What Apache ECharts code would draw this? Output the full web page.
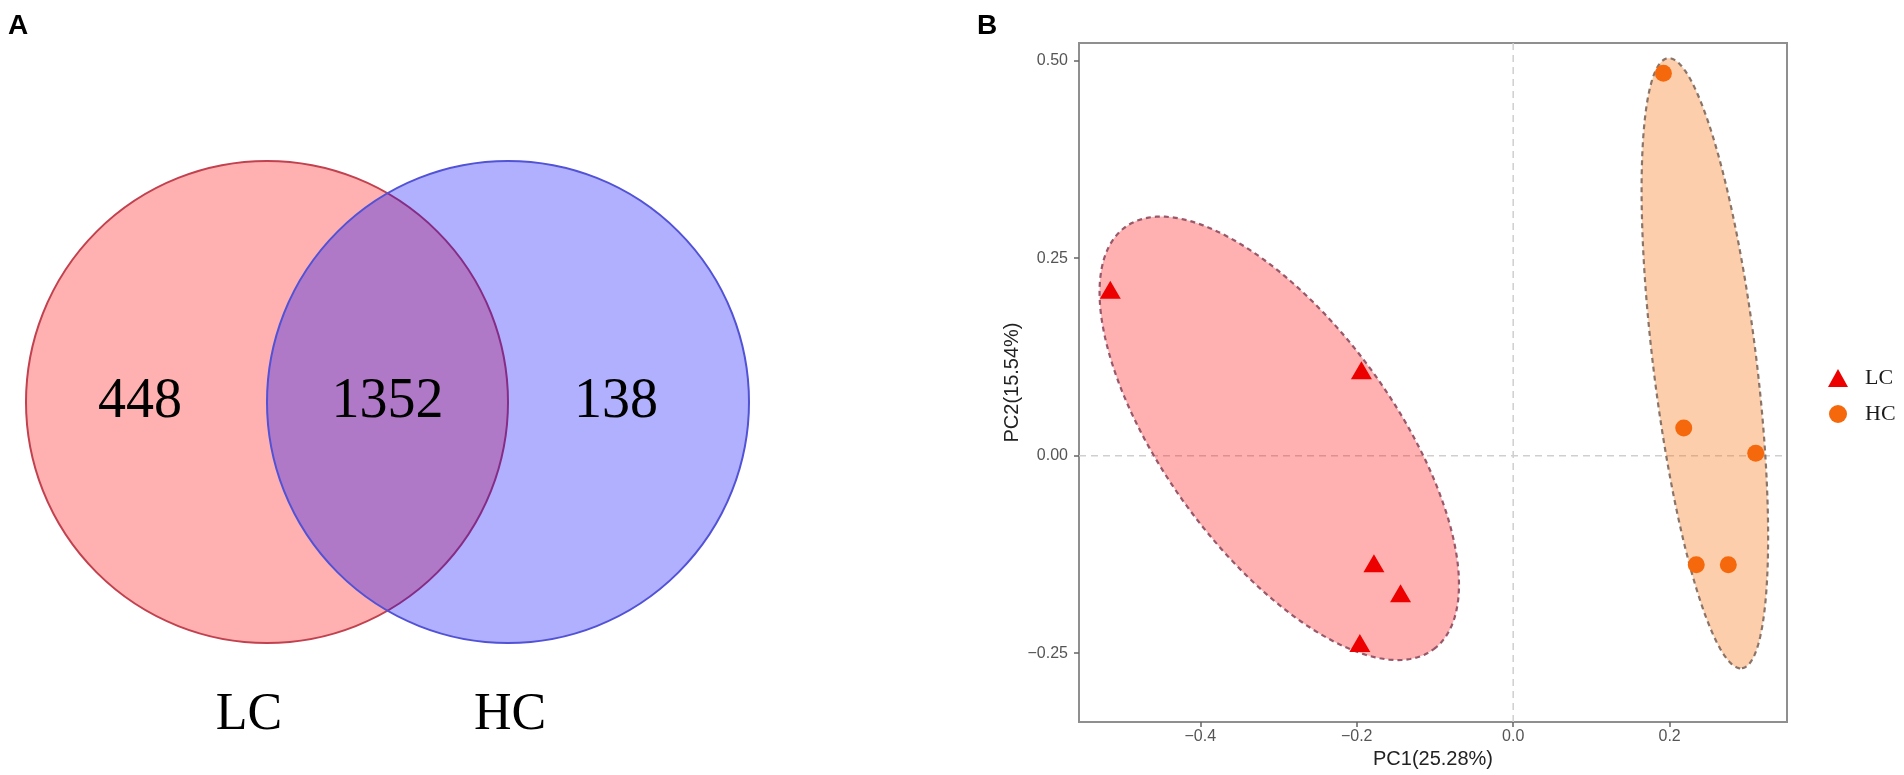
<!DOCTYPE html>
<html>
<head>
<meta charset="utf-8">
<script src="https://cdn.jsdelivr.net/npm/echarts@6/dist/echarts.min.js"></script>
<style>
html,body{margin:0;padding:0;background:#fff;}
#c{width:1904px;height:775px;}
</style>
</head>
<body>
<div id="c"></div>
<script>
// ---------- data ----------
const PANEL_TAGS = ['A', 'B'];
const VENN_SETS = ['LC', 'HC'];
const VENN_COUNTS = [448, 1352, 138];          // LC only, shared, HC only
const PCA_GROUPS = ['LC', 'HC'];
const LC_PC1 = [-0.515, -0.194, -0.178, -0.144, -0.196];
const LC_PC2 = [0.210, 0.108, -0.136, -0.174, -0.237];
const HC_PC1 = [0.192, 0.218, 0.310, 0.234, 0.275];
const HC_PC2 = [0.484, 0.035, 0.003, -0.138, -0.138];
// ellipse: centre PC1, centre PC2, semi-axis 1, semi-axis 2, angle (deg)
const LC_ELLIPSE = [-0.299, 0.022, 0.332, 0.146, -53.5];
const HC_ELLIPSE = [0.245, 0.117, 0.389, 0.066, -83.0];
const REF_LINES = [0, 0];
const X_TICKS = [-0.4, -0.2, 0, 0.2];
const Y_TICKS = [-0.25, 0, 0.25, 0.5];
const AXIS_NAMES = ['PC1(25.28%)', 'PC2(15.54%)'];

// ---------- layout (Venn schematic, in px of a hidden grid) ----------
const VENN_CIRCLE_LAYOUT = [[267, 402, 241], [508, 402, 241]];
const VENN_COUNT_LAYOUT = [[140, 402], [387.5, 402], [616, 402]];
const VENN_SET_LAYOUT = [[249, 715], [510, 715]];

const SANS = 'Liberation Sans';
const SERIF = 'Liberation Serif';

function ellipseRender(style) {
  return function (params, api) {
    const cx = api.value(0), cy = api.value(1), a = api.value(2), b = api.value(3);
    const phi = api.value(4) * Math.PI / 180;
    const pts = [];
    const n = 200;
    for (let i = 0; i < n; i++) {
      const t = i / n * 2 * Math.PI;
      const dx = a * Math.cos(t), dy = b * Math.sin(t);
      pts.push(api.coord([cx + dx * Math.cos(phi) - dy * Math.sin(phi),
                          cy + dx * Math.sin(phi) + dy * Math.cos(phi)]));
    }
    return { type: 'polygon', shape: { points: pts }, style: style };
  };
}

const vennStyles = [
  { fill: 'rgba(255,0,0,0.31)', stroke: '#c2414f', lineWidth: 2 },
  { fill: 'rgba(0,0,255,0.31)', stroke: '#5252d6', lineWidth: 2 }
];

const axisLineStyle = { color: '#8f8f8f', width: 2 };

const chart = echarts.init(document.getElementById('c'), null, { renderer: 'canvas' });
chart.setOption({
  animation: false,
  backgroundColor: '#fff',
  title: [
    { text: PANEL_TAGS[0], left: 8, top: 12, padding: 0,
      textStyle: { fontFamily: SANS, fontWeight: 'bold', fontSize: 28, color: '#000' } },
    { text: PANEL_TAGS[1], left: 977, top: 12, padding: 0,
      textStyle: { fontFamily: SANS, fontWeight: 'bold', fontSize: 28, color: '#000' } }
  ],
  legend: {
    orient: 'vertical', left: 1823, top: 362, itemWidth: 20, itemHeight: 18, itemGap: 14,
    selectedMode: false,
    textStyle: { fontFamily: SERIF, fontSize: 22, color: '#1a1a1a', padding: [0, 0, 0, 12] },
    data: [{ name: PCA_GROUPS[0], icon: 'triangle' }, { name: PCA_GROUPS[1], icon: 'circle' }]
  },
  grid: [
    { left: 1079, top: 43, width: 708, height: 679, show: true, borderColor: '#8f8f8f', borderWidth: 2, backgroundColor: 'transparent' },
    { left: 0, top: 0, width: 800, height: 775, show: false }
  ],
  xAxis: [
    {
      type: 'value', gridIndex: 0, min: -0.555, max: 0.35,
      name: AXIS_NAMES[0], nameLocation: 'middle', nameGap: 26,
      nameTextStyle: { fontFamily: SANS, fontSize: 20, color: '#222' },
      axisLine: { show: true, onZero: false, lineStyle: axisLineStyle },
      splitLine: { show: false },
      axisTick: { show: true, inside: false, customValues: X_TICKS, length: 5, lineStyle: { color: '#666', width: 1.5 } },
      axisLabel: { customValues: X_TICKS, margin: 7, fontFamily: SANS, fontSize: 16, color: '#555',
        formatter: v => (v < 0 ? '\u2212' : '') + Math.abs(v).toFixed(1) }
    },
    { type: 'value', gridIndex: 1, min: 0, max: 800, show: false }
  ],
  yAxis: [
    {
      type: 'value', gridIndex: 0, min: -0.3371, max: 0.5224,
      name: AXIS_NAMES[1], nameLocation: 'middle', nameGap: 57,
      nameTextStyle: { fontFamily: SANS, fontSize: 20, color: '#222' },
      axisLine: { show: true, onZero: false, lineStyle: axisLineStyle },
      splitLine: { show: false },
      axisTick: { show: true, inside: false, customValues: Y_TICKS, length: 5, lineStyle: { color: '#666', width: 1.5 } },
      axisLabel: { customValues: Y_TICKS, margin: 11, fontFamily: SANS, fontSize: 16, color: '#555',
        formatter: v => (v < 0 ? '\u2212' : '') + Math.abs(v).toFixed(2) }
    },
    { type: 'value', gridIndex: 1, min: 0, max: 775, inverse: true, show: false }
  ],
  series: [
    // Venn circles
    {
      type: 'custom', name: 'venn', xAxisIndex: 1, yAxisIndex: 1, z: 2, silent: true,
      data: VENN_CIRCLE_LAYOUT.map((c, i) => ({ value: c, setName: VENN_SETS[i] })),
      renderItem: function (params, api) {
        const p = api.coord([api.value(0), api.value(1)]);
        const r = api.size([api.value(2), 0])[0];
        return { type: 'circle', shape: { cx: p[0], cy: p[1], r: r }, style: vennStyles[params.dataIndex] };
      }
    },
    // Venn counts
    {
      type: 'scatter', name: 'vennCounts', xAxisIndex: 1, yAxisIndex: 1, z: 4, symbolSize: 1, silent: true,
      itemStyle: { opacity: 0 },
      data: VENN_COUNTS.map((n, i) => ({ value: VENN_COUNT_LAYOUT[i], count: n })),
      label: { show: true, position: 'inside', formatter: p => String(VENN_COUNTS[p.dataIndex]),
        fontFamily: SERIF, fontSize: 56, color: '#000', textBorderWidth: 0, opacity: 1 }
    },
    // Venn set names
    {
      type: 'scatter', name: 'vennSets', xAxisIndex: 1, yAxisIndex: 1, z: 4, symbolSize: 1, silent: true,
      itemStyle: { opacity: 0 },
      data: VENN_SETS.map((s, i) => ({ value: VENN_SET_LAYOUT[i] })),
      label: { show: true, position: 'inside', formatter: p => VENN_SETS[p.dataIndex],
        fontFamily: SERIF, fontSize: 52, color: '#000', textBorderWidth: 0, opacity: 1 }
    },
    // reference dashed lines at 0
    {
      type: 'custom', name: 'ref', xAxisIndex: 0, yAxisIndex: 0, z: 1, silent: true,
      data: [REF_LINES],
      renderItem: function (params, api) {
        const cs = params.coordSys;
        const p = api.coord([api.value(0), api.value(1)]);
        const st = { stroke: '#cfcfcf', lineWidth: 1.5, lineDash: [7, 5] };
        return { type: 'group', children: [
          { type: 'line', shape: { x1: p[0], y1: cs.y, x2: p[0], y2: cs.y + cs.height }, style: st },
          { type: 'line', shape: { x1: cs.x, y1: p[1], x2: cs.x + cs.width, y2: p[1] }, style: st }
        ] };
      }
    },
    // ellipses
    {
      type: 'custom', name: 'LC ellipse', xAxisIndex: 0, yAxisIndex: 0, z: 2, silent: true,
      data: [LC_ELLIPSE],
      renderItem: ellipseRender({ fill: 'rgba(255,0,0,0.31)', stroke: '#98586a', lineWidth: 2.2, lineDash: [5, 4] })
    },
    {
      type: 'custom', name: 'HC ellipse', xAxisIndex: 0, yAxisIndex: 0, z: 2, silent: true,
      data: [HC_ELLIPSE],
      renderItem: ellipseRender({ fill: 'rgba(249,115,15,0.35)', stroke: '#8a7468', lineWidth: 2.2, lineDash: [5, 4] })
    },
    // points
    {
      type: 'scatter', name: PCA_GROUPS[0], xAxisIndex: 0, yAxisIndex: 0, z: 3,
      symbol: 'triangle', symbolSize: [21, 18],
      itemStyle: { color: '#ec0000', opacity: 1 },
      data: LC_PC1.map((x, i) => [x, LC_PC2[i]])
    },
    {
      type: 'scatter', name: PCA_GROUPS[1], xAxisIndex: 0, yAxisIndex: 0, z: 3,
      symbol: 'circle', symbolSize: 17,
      itemStyle: { color: '#f5680c', opacity: 1 },
      data: HC_PC1.map((x, i) => [x, HC_PC2[i]])
    }
  ]
});
</script>
</body>
</html>
